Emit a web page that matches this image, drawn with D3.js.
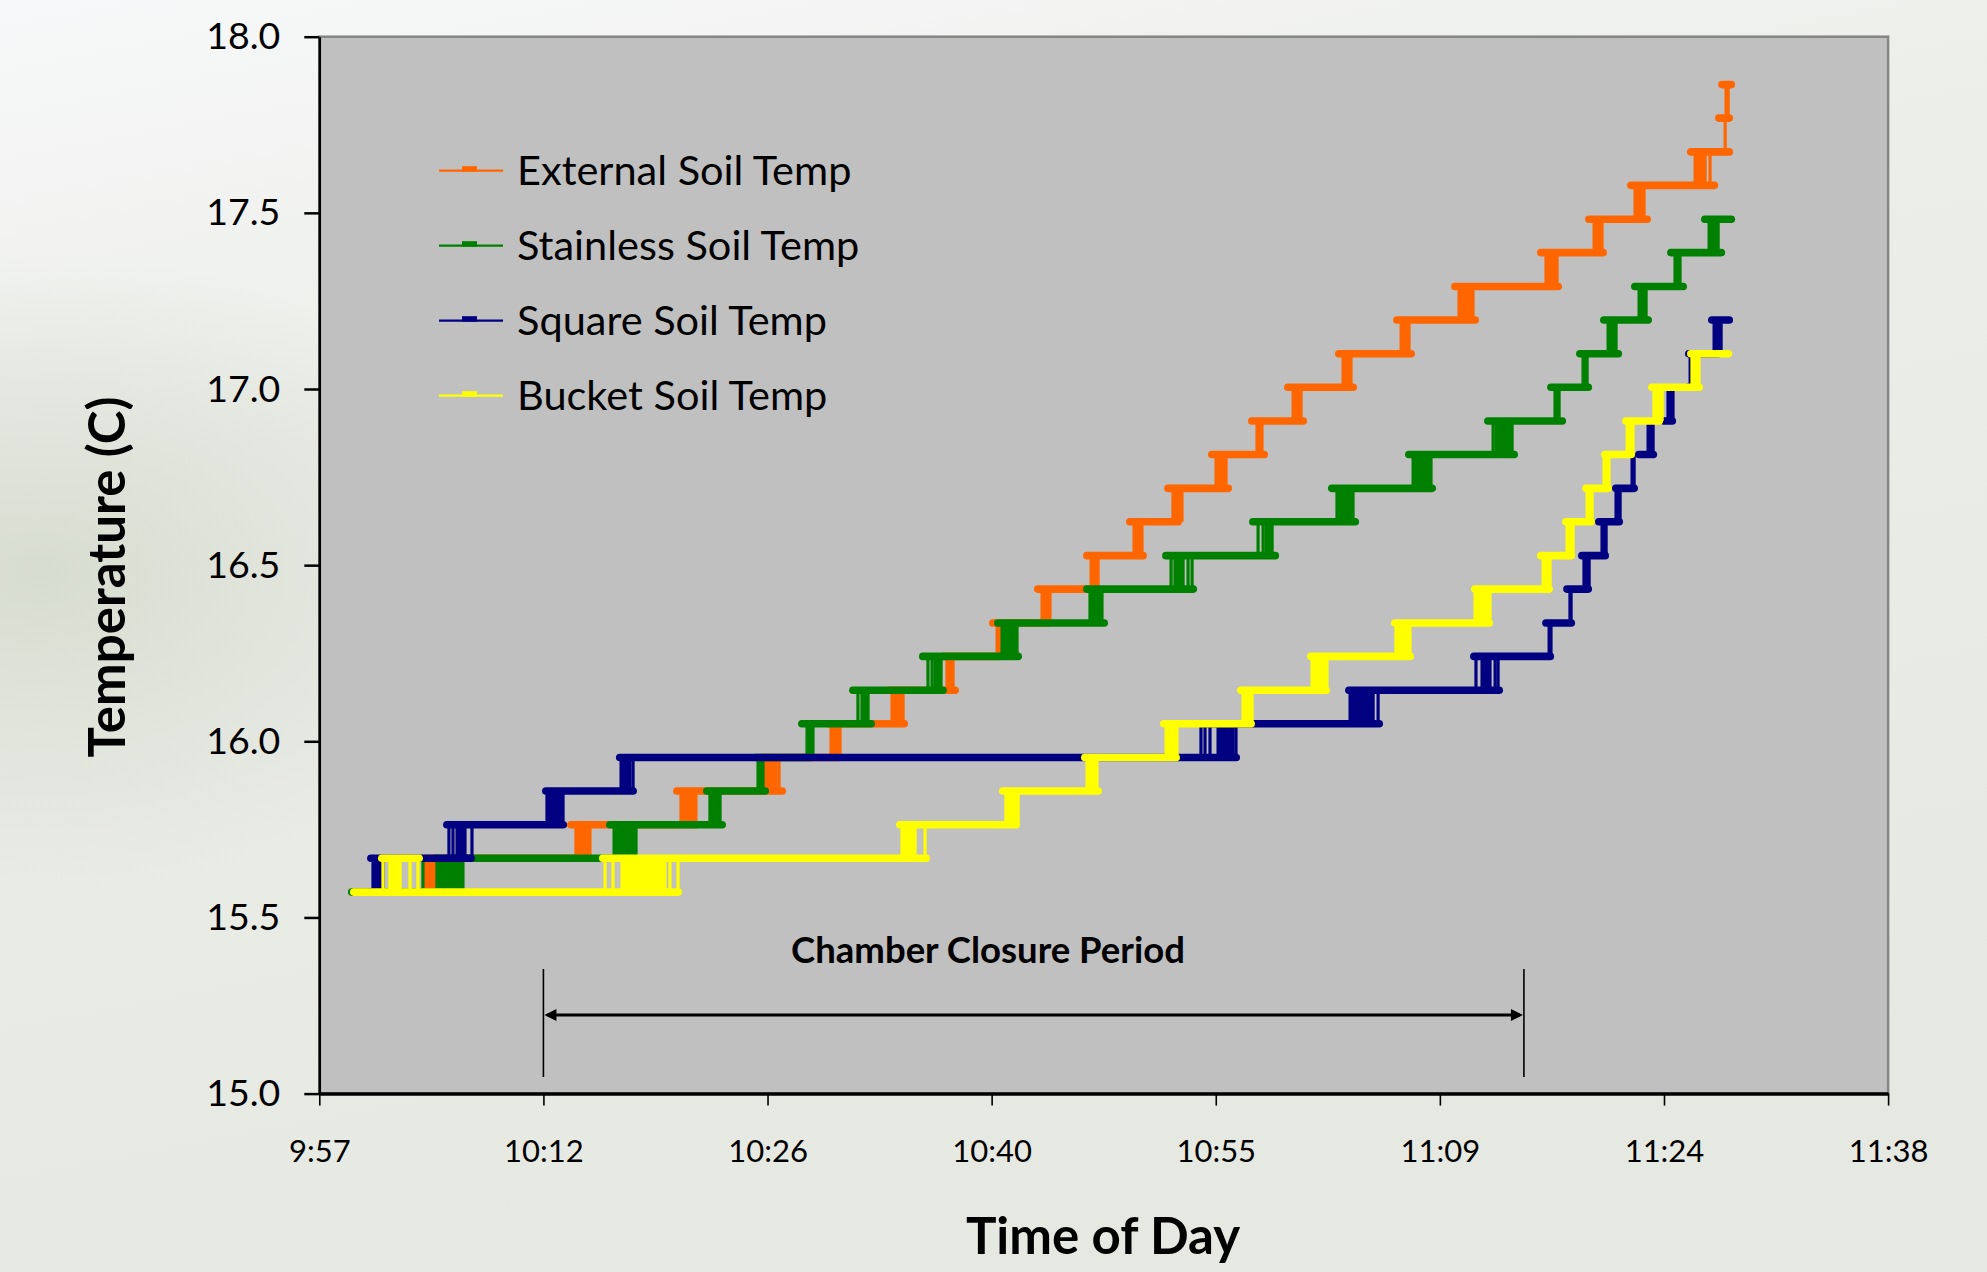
<!DOCTYPE html>
<html>
<head>
<meta charset="utf-8">
<script src="https://cdn.jsdelivr.net/npm/d3@7/dist/d3.min.js"></script>
<style>
  html, body { margin: 0; padding: 0; background: #eef0eb; }
  svg { display: block; }
</style>
</head>
<body>
<div id="chart"></div>
<script>
// sensor steps (deg C)
const levels = [15.572, 15.668, 15.763, 15.859, 15.954, 16.050, 16.145, 16.241, 16.336, 16.432, 16.527, 16.623,
  16.718, 16.814, 16.909, 17.005, 17.100, 17.196, 17.291, 17.387, 17.482, 17.578, 17.673, 17.769, 17.864];

// time axis in minutes after midnight
const xTicks = [597.6, 612.0, 626.4, 640.8, 655.2, 669.6, 684.0, 698.4];
const xTickLabels = ["9:57", "10:12", "10:26", "10:40", "10:55", "11:09", "11:24", "11:38"];
const yTicks = [15.0, 15.5, 16.0, 16.5, 17.0, 17.5, 18.0];
const closure = [612.0, 675.0];

const seriesNames = ["External Soil Temp", "Stainless Soil Temp", "Square Soil Temp", "Bucket Soil Temp"];

// runs = [level index, from, to]   risers = [level index below, from, to]
const externalRuns = [
  [0, 599.57, 605.36], [1, 604.13, 614.99], [2, 613.52, 622.06], [3, 620.33, 627.59], [4, 625.79, 631.19],
  [5, 630.09, 635.43], [6, 633.95, 638.70], [7, 637.48, 641.53], [8, 640.63, 644.68], [9, 643.52, 647.76],
  [10, 646.67, 650.78], [11, 649.43, 653.03], [12, 651.88, 656.25], [13, 654.70, 658.56], [14, 657.27, 661.07],
  [15, 659.59, 664.28], [16, 662.86, 668.00], [17, 666.59, 672.12], [18, 670.32, 677.45], [19, 675.84, 680.34],
  [20, 678.93, 683.17], [21, 681.63, 687.48], [22, 685.48, 688.44], [23, 687.28, 688.44], [24, 687.48, 688.57]
];
const externalRisers = [
  [0, 604.39, 605.10], [1, 614.09, 614.99], [2, 620.84, 621.80], [3, 626.11, 626.95], [3, 627.14, 627.14],
  [4, 630.48, 631.06], [5, 634.40, 635.11], [6, 637.93, 638.32], [7, 641.15, 641.47], [8, 644.04, 644.55],
  [9, 647.19, 647.64], [10, 649.95, 650.46], [11, 652.45, 653.03], [12, 655.22, 655.86], [13, 657.85, 658.17],
  [14, 660.17, 660.68], [15, 663.38, 663.89], [16, 667.11, 667.62], [17, 670.83, 671.73], [18, 676.42, 677.13],
  [19, 679.51, 680.02], [20, 682.14, 682.72], [21, 686.00, 686.64], [21, 686.96, 686.96], [22, 687.93, 687.93],
  [23, 687.99, 688.12]
];

const stainlessRuns = [
  [0, 599.44, 606.83], [1, 604.78, 617.95], [2, 616.02, 623.73], [3, 622.25, 626.50], [4, 625.40, 629.45],
  [5, 628.36, 633.31], [6, 631.64, 637.93], [7, 636.13, 642.75], [8, 640.95, 648.28], [9, 646.67, 654.00],
  [10, 651.75, 659.27], [11, 657.34, 664.41], [12, 662.41, 669.35], [13, 667.36, 674.62], [14, 672.44, 677.71],
  [15, 676.49, 679.38], [16, 678.35, 681.31], [17, 679.89, 683.23], [18, 681.88, 685.48], [19, 684.20, 687.93],
  [20, 686.38, 688.57]
];
const stainlessRisers = [
  [0, 604.26, 604.26], [0, 605.16, 606.83], [1, 616.54, 617.95], [2, 622.70, 623.35], [3, 625.79, 626.11],
  [4, 628.94, 629.32], [5, 632.21, 632.21], [5, 632.47, 632.86], [6, 636.71, 636.71], [6, 636.97, 636.97],
  [6, 637.16, 637.55], [7, 641.47, 642.43], [8, 647.12, 647.89], [9, 652.33, 652.33], [9, 652.58, 653.10],
  [9, 653.42, 653.42], [9, 653.68, 653.68], [10, 657.92, 657.92], [10, 658.24, 658.24], [10, 658.43, 658.82],
  [11, 662.99, 664.02], [12, 667.88, 669.03], [13, 673.02, 673.02], [13, 673.21, 674.24], [14, 677.00, 677.26],
  [15, 678.80, 679.06], [16, 680.41, 680.92], [17, 682.40, 682.85], [18, 684.71, 685.03], [19, 686.90, 687.48]
];

const squareRuns = [
  [0, 600.60, 601.69], [1, 600.67, 607.60], [2, 605.55, 613.52], [3, 611.91, 618.01], [4, 616.66, 656.76],
  [5, 654.06, 665.95], [6, 663.51, 673.66], [7, 671.54, 676.94], [8, 676.17, 678.29], [9, 677.52, 679.38],
  [10, 678.48, 680.47], [11, 679.57, 681.37], [12, 680.66, 682.33], [13, 682.14, 683.56], [14, 683.75, 684.78],
  [15, 685.29, 686.32], [16, 685.35, 687.73], [17, 686.83, 688.44]
];
const squareRisers = [
  [0, 601.05, 601.69], [1, 605.93, 605.93], [1, 606.19, 606.19], [1, 606.45, 606.96], [1, 607.41, 607.41],
  [2, 612.23, 613.26], [3, 616.99, 617.56], [3, 617.76, 617.76], [4, 654.25, 654.25], [4, 654.51, 654.51],
  [4, 654.83, 654.83], [4, 655.35, 656.31], [4, 656.50, 656.50], [5, 663.83, 665.31], [5, 665.63, 665.63],
  [6, 671.92, 671.92], [6, 672.31, 672.82], [6, 673.15, 673.15], [6, 673.34, 673.34], [7, 676.62, 676.74],
  [8, 677.96, 678.03], [9, 678.86, 679.19], [10, 680.02, 680.28], [11, 680.92, 681.18], [12, 681.95, 682.08],
  [13, 682.98, 683.30], [14, 684.26, 684.58], [15, 685.68, 685.87], [16, 687.22, 687.67]
];

const bucketRuns = [
  [0, 599.57, 620.91], [1, 601.37, 604.26], [1, 615.57, 636.84], [2, 634.66, 642.62], [3, 641.27, 647.89],
  [4, 646.54, 652.90], [5, 651.62, 657.72], [6, 656.57, 662.54], [7, 661.07, 667.94], [8, 666.46, 673.02],
  [9, 671.60, 676.87], [10, 675.84, 678.29], [11, 677.45, 679.57], [12, 678.74, 680.66], [13, 679.96, 682.14],
  [14, 681.31, 683.94], [15, 682.98, 686.51], [16, 685.48, 688.38]
];
const bucketRisers = [
  [0, 601.69, 601.69], [0, 602.14, 602.79], [0, 603.43, 603.43], [0, 603.94, 603.94],
  [0, 615.96, 615.96], [0, 616.47, 616.47], [0, 617.05, 619.81], [0, 620.13, 620.13], [0, 620.65, 620.65],
  [1, 635.04, 635.88], [1, 636.52, 636.52], [2, 641.72, 642.50], [3, 646.93, 647.57], [4, 652.01, 652.71],
  [5, 656.95, 657.53], [6, 661.39, 662.35], [7, 666.78, 667.68], [8, 671.86, 672.82], [9, 676.23, 676.68],
  [10, 677.77, 678.16], [11, 679.06, 679.38], [12, 680.15, 680.47], [13, 681.63, 682.01], [14, 683.36, 683.88],
  [15, 685.80, 686.25]
];

(() => {
  const W = 1987, H = 1272;
  const plot = { left: 319.3, right: 1888.1, top: 36.7, bottom: 1093.6 };
  const font = "Lato, 'Open Sans', sans-serif";

  const series = [
    { name: seriesNames[0], color: "#ff6600", runs: externalRuns, risers: externalRisers },
    { name: seriesNames[1], color: "#008000", runs: stainlessRuns, risers: stainlessRisers },
    { name: seriesNames[2], color: "#000080", runs: squareRuns, risers: squareRisers },
    { name: seriesNames[3], color: "#ffff00", runs: bucketRuns, risers: bucketRisers }
  ];

  const svg = d3.select("#chart").append("svg")
    .attr("width", W).attr("height", H)
    .attr("viewBox", `0 0 ${W} ${H}`);

  // background (stands in for the washed-out grass photo)
  const defs = svg.append("defs");
  const bg = defs.append("linearGradient").attr("id", "bg")
    .attr("x1", 0).attr("y1", 0).attr("x2", 0.3).attr("y2", 1);
  bg.append("stop").attr("offset", 0).attr("stop-color", "#f7f8f9");
  bg.append("stop").attr("offset", 0.35).attr("stop-color", "#eceee9");
  bg.append("stop").attr("offset", 1).attr("stop-color", "#e6e9e1");
  const side = defs.append("radialGradient").attr("id", "side")
    .attr("cx", 0.02).attr("cy", 0.45).attr("r", 0.25);
  side.append("stop").attr("offset", 0).attr("stop-color", "#cfd5c6").attr("stop-opacity", 0.7);
  side.append("stop").attr("offset", 1).attr("stop-color", "#cfd5c6").attr("stop-opacity", 0);

  svg.append("rect").attr("width", W).attr("height", H).attr("fill", "url(#bg)");
  svg.append("rect").attr("width", W).attr("height", H).attr("fill", "url(#side)");

  defs.append("clipPath").attr("id", "clip").append("rect")
    .attr("x", plot.left).attr("y", plot.top)
    .attr("width", plot.right - plot.left).attr("height", plot.bottom - plot.top);

  const x = d3.scaleLinear().domain([xTicks[0], xTicks[xTicks.length - 1]]).range([plot.left, plot.right]);
  const y = d3.scaleLinear().domain([15, 18]).range([plot.bottom, plot.top]);

  // plot area
  svg.append("rect")
    .attr("x", plot.left).attr("y", plot.top)
    .attr("width", plot.right - plot.left).attr("height", plot.bottom - plot.top)
    .attr("fill", "#c0c0c0").attr("stroke", "#858585").attr("stroke-width", 2.5);

  // series
  const marks = svg.append("g").attr("clip-path", "url(#clip)");
  series.forEach(s => {
    const g = marks.append("g");
    g.selectAll("rect").data(s.risers).join("rect")
      .attr("x", d => x(d[1]) - 1.6)
      .attr("width", d => x(d[2]) - x(d[1]) + 3.2)
      .attr("y", d => y(levels[d[0] + 1]))
      .attr("height", d => y(levels[d[0]]) - y(levels[d[0] + 1]))
      .attr("fill", s.color);
    g.selectAll("line").data(s.runs).join("line")
      .attr("x1", d => x(d[1]) + 3.8)
      .attr("x2", d => Math.max(x(d[2]) - 3.8, x(d[1]) + 3.8))
      .attr("y1", d => y(levels[d[0]]))
      .attr("y2", d => y(levels[d[0]]))
      .attr("stroke", s.color)
      .attr("stroke-width", 7.6)
      .attr("stroke-linecap", "round");
  });

  // chamber closure period
  const ann = svg.append("g").attr("stroke", "#000");
  [closure[0], closure[1]].forEach(t => {
    ann.append("line")
      .attr("x1", x(t)).attr("x2", x(t))
      .attr("y1", 969).attr("y2", 1077)
      .attr("stroke-width", 1.6);
  });
  const ay = 1015;
  ann.append("line")
    .attr("x1", x(closure[0]) + 4).attr("x2", x(closure[1]) - 4)
    .attr("y1", ay).attr("y2", ay)
    .attr("stroke-width", 3);
  ann.append("path")
    .attr("d", `M${x(closure[0]) + 1},${ay} l12,-6 l0,12 z`)
    .attr("fill", "#000").attr("stroke", "none");
  ann.append("path")
    .attr("d", `M${x(closure[1]) - 1},${ay} l-12,-6 l0,12 z`)
    .attr("fill", "#000").attr("stroke", "none");
  svg.append("text")
    .attr("x", 988).attr("y", 963)
    .attr("text-anchor", "middle")
    .attr("font-family", font).attr("font-weight", 700).attr("font-size", 36.5)
    .attr("fill", "#000")
    .text("Chamber Closure Period");

  // axes
  const yAxis = svg.append("g")
    .attr("transform", `translate(${plot.left},0)`)
    .call(d3.axisLeft(y).tickValues(yTicks).tickFormat(d3.format(".1f"))
      .tickSize(15).tickSizeOuter(0).tickPadding(24));
  yAxis.select(".domain").attr("stroke", "#000").attr("stroke-width", 2.5);
  yAxis.selectAll(".tick line").attr("stroke", "#000").attr("stroke-width", 2.5);
  yAxis.selectAll("text").attr("font-family", font).attr("font-size", 37.5).attr("fill", "#000");

  const xAxis = svg.append("g")
    .attr("transform", `translate(0,${plot.bottom})`)
    .call(d3.axisBottom(x).tickValues(xTicks).tickFormat((d, i) => xTickLabels[i])
      .tickSize(12).tickSizeOuter(0).tickPadding(34));
  xAxis.select(".domain").attr("stroke", "#000").attr("stroke-width", 3.5);
  xAxis.selectAll(".tick line").attr("stroke", "#000").attr("stroke-width", 1.6);
  xAxis.selectAll("text").attr("font-family", font).attr("font-size", 31).attr("fill", "#000");

  // axis titles
  svg.append("text")
    .attr("transform", "translate(125,577) rotate(-90)")
    .attr("text-anchor", "middle")
    .attr("font-family", font).attr("font-weight", 700).attr("font-size", 51)
    .attr("fill", "#000")
    .text("Temperature (C)");
  svg.append("text")
    .attr("x", 1103).attr("y", 1254)
    .attr("text-anchor", "middle")
    .attr("font-family", font).attr("font-weight", 700).attr("font-size", 51)
    .attr("fill", "#000")
    .text("Time of Day");

  // legend
  const legend = svg.append("g").attr("transform", "translate(439,170.7)");
  series.forEach((s, i) => {
    const row = legend.append("g").attr("transform", `translate(0,${i * 75})`);
    row.append("line").attr("x1", 0).attr("x2", 64).attr("y1", 0).attr("y2", 0)
      .attr("stroke", s.color).attr("stroke-width", 2.2);
    row.append("rect").attr("x", 23).attr("y", -4.5).attr("width", 15).attr("height", 5.5)
      .attr("fill", s.color);
    row.append("text").attr("x", 78).attr("y", 14)
      .attr("font-family", font).attr("font-size", 41.5).attr("fill", "#000")
      .text(s.name);
  });
})();
</script>
</body>
</html>
